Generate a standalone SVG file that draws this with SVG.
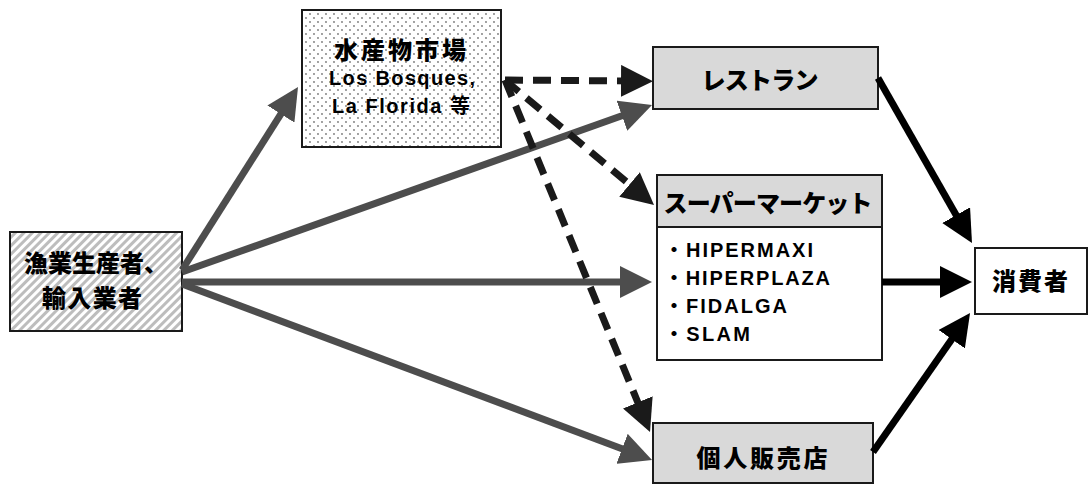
<svg xmlns="http://www.w3.org/2000/svg" width="1089" height="489" viewBox="0 0 1089 489">
<style>
.box{stroke:#1a1a1a;stroke-width:2}
.gray{fill:#d9d9d9}
.t{font-family:"Noto Sans CJK JP","Noto Sans CJK SC",sans-serif;font-weight:900;font-size:24px;fill:#000}
.l{font-family:"Liberation Sans","Noto Sans CJK JP",sans-serif;font-weight:bold;font-size:20px;fill:#000}
.c{text-anchor:middle}
.ag{fill:none;stroke:#4d4d4d;stroke-width:7}
.ad{fill:none;stroke:#1a1a1a;stroke-width:7;stroke-dasharray:18 10}
.ab{fill:none;stroke:#000;stroke-width:7}
</style>
<defs>
<pattern id="stripes" width="6" height="6" patternUnits="userSpaceOnUse" patternTransform="rotate(45)">
<rect width="6" height="6" fill="#ffffff"/>
<rect width="3" height="6" fill="#bdbdbd"/>
</pattern>
<pattern id="dots" width="8" height="8" patternUnits="userSpaceOnUse">
<rect width="8" height="8" fill="#ffffff"/>
<circle cx="2" cy="2" r="0.9" fill="#777"/>
<circle cx="6" cy="6" r="0.9" fill="#777"/>
</pattern>
<marker id="mg" markerUnits="userSpaceOnUse" markerWidth="32" markerHeight="32" refX="12" refY="16" orient="auto"><path d="M0,0 L32,16 L0,32 z" fill="#4d4d4d"/></marker>
<marker id="md" markerUnits="userSpaceOnUse" markerWidth="32" markerHeight="32" refX="12" refY="16" orient="auto"><path d="M0,0 L32,16 L0,32 z" fill="#1a1a1a"/></marker>
<marker id="mb" markerUnits="userSpaceOnUse" markerWidth="32" markerHeight="32" refX="12" refY="16" orient="auto"><path d="M0,0 L32,16 L0,32 z" fill="#000"/></marker>
</defs>
<rect width="1089" height="489" fill="#ffffff"/>

<g id="producer">
<rect class="box" x="10" y="232" width="172" height="99" fill="url(#stripes)"/>
<text class="t c" x="96" y="272" textLength="144" lengthAdjust="spacing">漁業生産者、</text>
<text class="t c" x="92" y="307" textLength="100" lengthAdjust="spacing">輸入業者</text>
</g>

<g id="market">
<rect class="box" x="302" y="10" width="199" height="137" fill="url(#dots)"/>
<text class="t c" x="400" y="59" textLength="132" lengthAdjust="spacing">水産物市場</text>
<text class="l c" x="402" y="85" textLength="146" lengthAdjust="spacing">Los Bosques,</text>
<text class="l c" x="401" y="113" textLength="138" lengthAdjust="spacing">La Florida 等</text>
</g>

<g id="restaurant">
<rect class="box gray" x="653" y="47" width="225" height="62"/>
<text class="t c" x="760" y="89" textLength="117" lengthAdjust="spacing">レストラン</text>
</g>

<g id="supermarket">
<rect class="box" x="657" y="175" width="225" height="185" fill="#ffffff"/>
<rect class="box gray" x="657" y="175" width="225" height="52"/>
<text class="t c" x="768" y="212" textLength="209" lengthAdjust="spacing">スーパーマーケット</text>
<text class="l" x="664" y="257" textLength="149" lengthAdjust="spacing">・HIPERMAXI</text>
<text class="l" x="664" y="285" textLength="166" lengthAdjust="spacing">・HIPERPLAZA</text>
<text class="l" x="664" y="313" textLength="123" lengthAdjust="spacing">・FIDALGA</text>
<text class="l" x="664" y="341" textLength="86" lengthAdjust="spacing">・SLAM</text>
</g>

<g id="retailer">
<rect class="box gray" x="653" y="423" width="220" height="60"/>
<text class="t c" x="762" y="467" textLength="131" lengthAdjust="spacing">個人販売店</text>
</g>

<g id="consumer">
<rect class="box" x="975" y="248" width="112" height="66" fill="#ffffff"/>
<text class="t c" x="1030" y="290" textLength="76" lengthAdjust="spacing">消費者</text>
</g>

<g id="connectors">
<path class="ag" d="M182,270 L287.3,103.9" marker-end="url(#mg)"/>
<path class="ag" d="M182,272 L633.2,111.7" marker-end="url(#mg)"/>
<path class="ag" d="M182,282 L632,282" marker-end="url(#mg)"/>
<path class="ag" d="M182,284 L633.3,453" marker-end="url(#mg)"/>
<path class="ad" d="M505,80 L633,81" marker-end="url(#md)"/>
<path class="ad" d="M505,80 L638.7,192.1" marker-end="url(#md)"/>
<path class="ad" d="M505,80 L642.4,413.5" marker-end="url(#md)"/>
<path class="ab" d="M878,78 L962.1,225.6" marker-end="url(#mb)"/>
<path class="ab" d="M882,282 L952,282" marker-end="url(#mb)"/>
<path class="ab" d="M873,452 L958.6,329.4" marker-end="url(#mb)"/>
</g>
</svg>
